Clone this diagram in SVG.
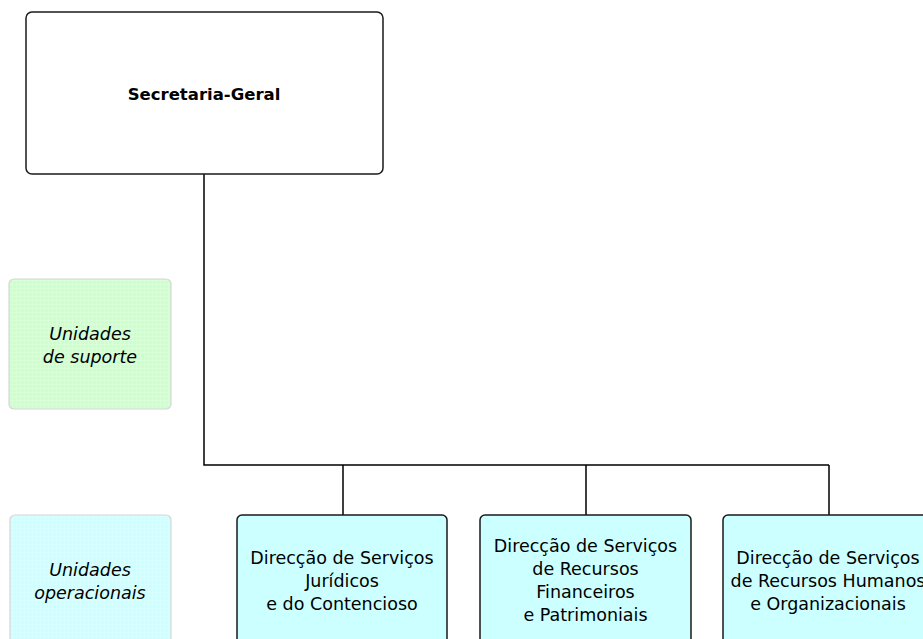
<svg xmlns="http://www.w3.org/2000/svg" width="923" height="639" viewBox="0 0 923 639">
<defs>
<pattern id="gridG" width="4" height="4" patternUnits="userSpaceOnUse">
<rect width="4" height="4" fill="#ccffcc"/>
<path d="M0 0.5H4M0.5 0V4" stroke="#d8ffd8" stroke-width="1"/>
</pattern>
<pattern id="gridB" width="4" height="4" patternUnits="userSpaceOnUse">
<rect width="4" height="4" fill="#ccffff"/>
<path d="M0 0.5H4M0.5 0V4" stroke="#d8ffff" stroke-width="1"/>
</pattern>
</defs>
<style>
.box{fill:#ccffff;stroke:#1a1a1a;stroke-width:1.5}
.top{fill:#ffffff;stroke:#1a1a1a;stroke-width:1.5}
.legend{stroke:#d6d6d6;stroke-width:1.2}
.t{font-family:"DejaVu Sans",Verdana,sans-serif;font-size:17.5px;fill:#000;text-anchor:middle}
.tb{font-family:"DejaVu Sans",Verdana,sans-serif;font-size:16.5px;font-weight:bold;fill:#000;text-anchor:middle}
.ti{font-style:italic}
.conn{fill:none;stroke:#000;stroke-width:1.5}
</style>
<rect width="923" height="639" fill="#ffffff"/>
<g id="connectors">
<path class="conn" d="M204 174V465H829M343 465V515M586 465V515M829 465V515"/>
</g>
<g id="secretaria-geral">
<rect class="top" x="26" y="12" width="357" height="162" rx="6"/>
<text class="tb" x="204" y="100">Secretaria-Geral</text>
</g>
<g id="unidades-suporte">
<rect class="legend" x="9" y="279" width="162" height="130" rx="5" fill="url(#gridG)"/>
<text class="t ti" x="90" y="340">Unidades</text>
<text class="t ti" x="90" y="363">de suporte</text>
</g>
<g id="unidades-operacionais">
<rect class="legend" x="10" y="515" width="161" height="150" rx="5" fill="url(#gridB)"/>
<text class="t ti" x="90" y="576">Unidades</text>
<text class="t ti" x="90" y="599">operacionais</text>
</g>
<g id="dsj">
<rect class="box" x="237" y="515" width="210" height="150" rx="5"/>
<text class="t" x="342" y="564">Direcção de Serviços</text>
<text class="t" x="342" y="587">Jurídicos</text>
<text class="t" x="342" y="610">e do Contencioso</text>
</g>
<g id="dsrfp">
<rect class="box" x="480" y="515" width="211" height="150" rx="5"/>
<text class="t" x="585.5" y="552">Direcção de Serviços</text>
<text class="t" x="585.5" y="575">de Recursos</text>
<text class="t" x="585.5" y="598">Financeiros</text>
<text class="t" x="585.5" y="621">e Patrimoniais</text>
</g>
<g id="dsrho">
<rect class="box" x="723" y="515" width="210" height="150" rx="5"/>
<text class="t" x="828" y="564">Direcção de Serviços</text>
<text class="t" x="828" y="587">de Recursos Humanos</text>
<text class="t" x="828" y="610">e Organizacionais</text>
</g>
</svg>
